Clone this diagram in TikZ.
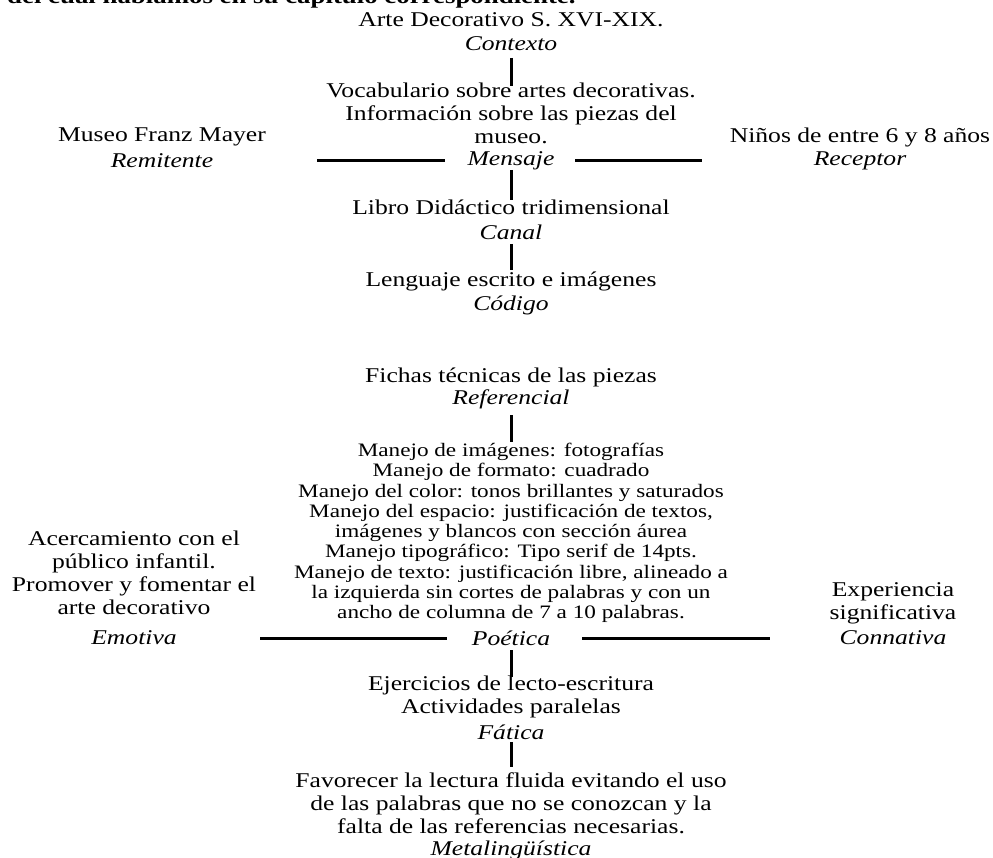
\documentclass[tikz,border=0pt]{standalone}
\usepackage{fontspec}
\setmainfont{Liberation Serif}[FakeStretch=1.22]
\begin{document}
\begin{tikzpicture}[x=1pt,y=-1pt,
  txt/.style={font=\fontsize{21}{23}\selectfont, align=center, inner sep=0pt},
  lab/.style={font=\fontsize{21}{23}\selectfont\itshape, inner sep=0pt},
  sm/.style={font=\fontsize{19}{20.25}\selectfont, align=center, inner sep=0pt},
  conn/.style={line width=3pt, black}]
\useasboundingbox (0,0) rectangle (993,858);
% cut-off line at the top
\node[inner sep=0pt, font=\fontsize{22}{24}\selectfont\bfseries, anchor=base west] (top) at (7,4) {del cual hablamos en su capítulo correspondiente.};
% centre column
\node[txt] (ctxT) at (511,20) {Arte Decorativo S. XVI-XIX.};
\node[lab] (ctxL) at (511,44) {Contexto};
\node[txt] (msgT) at (511,113) {Vocabulario sobre artes decorativas.\\Información sobre las piezas del\\museo.};
\node[lab] (msgL) at (511,161) {Mensaje};
\node[txt] (canT) at (511,207) {Libro Didáctico tridimensional};
\node[lab] (canL) at (511,232) {Canal};
\node[txt] (codT) at (511,281) {Lenguaje escrito e imágenes};
\node[lab] (codL) at (511,305) {Código};
\node[txt] (refT) at (511,377) {Fichas técnicas de las piezas};
\node[lab] (refL) at (511,399) {Referencial};
\node[sm] (poeT) at (511,533) {Manejo de imágenes: fotografías\\Manejo de formato: cuadrado\\Manejo del color: tonos brillantes y saturados\\Manejo del espacio: justificación de textos,\\imágenes y blancos con sección áurea\\Manejo tipográfico: Tipo serif de 14pts.\\Manejo de texto: justificación libre, alineado a\\la izquierda sin cortes de palabras y con un\\ancho de columna de 7 a 10 palabras.};
\node[lab] (poeL) at (511,638) {Poética};
\node[txt] (fatT) at (511,696.5) {Ejercicios de lecto-escritura\\Actividades paralelas};
\node[lab] (fatL) at (511,732) {Fática};
\node[txt] (metT) at (511,803.5) {Favorecer la lectura fluida evitando el uso\\de las palabras que no se conozcan y la\\falta de las referencias necesarias.};
\node[lab] (metL) at (511,850) {Metalingüística};
% sides, top row
\node[txt] (remT) at (162,137) {Museo Franz Mayer};
\node[lab] (remL) at (162,161) {Remitente};
\node[txt] (recT) at (860,137) {Niños de entre 6 y 8 años};
\node[lab] (recL) at (860,161) {Receptor};
% sides, lower row
\node[txt] (emoT) at (134,573) {Acercamiento con el\\público infantil.\\Promover y fomentar el\\arte decorativo};
\node[lab] (emoL) at (134,638) {Emotiva};
\node[txt] (conT) at (893,603.5) {Experiencia\\significativa};
\node[lab] (conL) at (893,638) {Connativa};
% vertical connectors
\draw[conn, shorten <=14pt, shorten >=27pt] (ctxL.center) -- (msgT.center);
\draw[conn, shorten <=9pt, shorten >=7pt] (msgL.center) -- (canT.center);
\draw[conn, shorten <=12pt, shorten >=11pt] (canL.center) -- (codT.center);
\draw[conn, shorten <=16pt, shorten >=91pt] (refL.center) -- (poeT.center);
\draw[conn, shorten <=12pt, shorten >=19.5pt] (poeL.center) -- (fatT.center);
\draw[conn, shorten <=10pt, shorten >=36.5pt] (fatL.center) -- (metT.center);
% horizontal connectors
\draw[conn, shorten <=155pt, shorten >=66pt] (remL.center) -- (msgL.center);
\draw[conn, shorten <=64pt, shorten >=158pt] (msgL.center) -- (recL.center);
\draw[conn, shorten <=126pt, shorten >=64pt] (emoL.center) -- (poeL.center);
\draw[conn, shorten <=71pt, shorten >=123pt] (poeL.center) -- (conL.center);
\end{tikzpicture}
\end{document}
